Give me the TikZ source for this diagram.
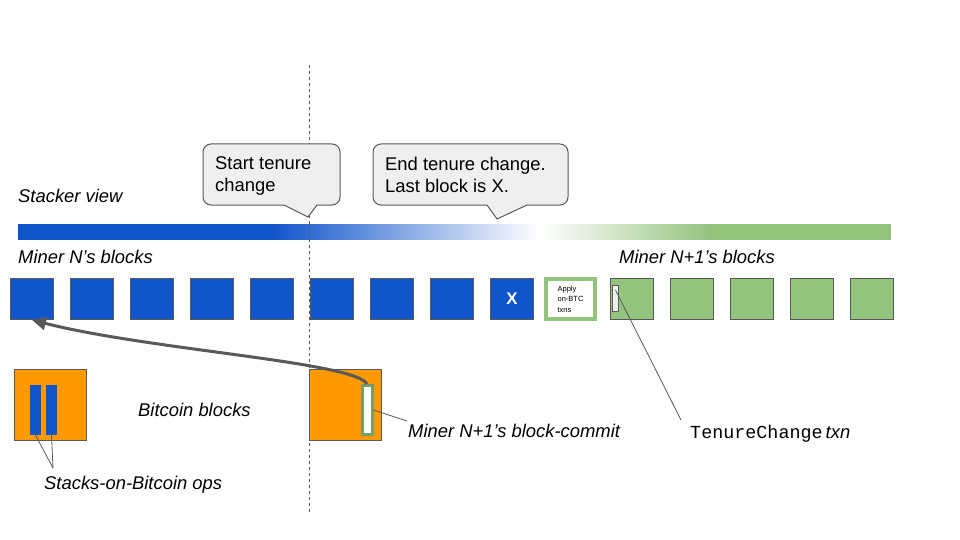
\documentclass[tikz,border=0pt]{standalone}
\usepackage{fontspec}
\setmainfont{Liberation Sans}
\setmonofont{Liberation Mono}
\usetikzlibrary{arrows.meta}

\definecolor{stxblue}{HTML}{1155CC}
\definecolor{stxgreen}{HTML}{93C47D}
\definecolor{btcorange}{HTML}{FF9900}
\definecolor{edgegray}{HTML}{595959}
\definecolor{bubblegray}{HTML}{EFEFEF}

\tikzset{
  blk/.style={draw=edgegray, line width=1pt, minimum width=43pt, minimum height=41pt, inner sep=0pt},
  lbl/.style={font=\fontsize{18.4}{22}\selectfont\itshape, inner sep=0pt, anchor=base west},
  bubble/.style={draw=edgegray, fill=bubblegray, line width=1pt},
  bubbletext/.style={font=\fontsize{18.4}{22}\selectfont, inner sep=0pt, anchor=north west, align=left},
  lead/.style={draw=edgegray, line width=0.8pt},
}

\begin{document}
\begin{tikzpicture}[x=1pt, y=-1pt]
			\fill[white] (0,0) rectangle (960,540);
			\useasboundingbox (0,0) rectangle (960,540);

			% Stacker view bar
			\fill[stxblue] (18,224) rectangle (274,240);
			\foreach \x in {274,...,540}{
				\pgfmathtruncatemacro{\p}{100-(\x-274)/2.66}
				\fill[stxblue!\p!white] (\x,224) rectangle (\x+1.5,240);
			}
			\foreach \x in {541,...,710}{
				\pgfmathtruncatemacro{\p}{(\x-541)/1.69}
				\fill[stxgreen!\p!white] (\x,224) rectangle (\x+1.5,240);
			}
			\fill[stxgreen] (711,224) rectangle (891,240);

			% Tenure change boundary
			\draw[edgegray, line width=0.8pt, dash pattern=on 3pt off 3pt] (309,65) -- (309,515);

			% Callouts
			\draw[bubble] (203,174) [rounded corners=8pt] -- (203,144) -- (340,144) -- (340,205)
				[sharp corners] -- (317,205) -- (308,217) -- (284,205) [rounded corners=8pt] -- (203,205) -- cycle;
			\node[bubbletext] (start) at (215,156.5) {Start tenure\\change};
			\draw[bubble] (373,174) [rounded corners=8pt] -- (373,144) -- (568,144) -- (568,205)
				[sharp corners] -- (527,205) -- (497,219) -- (487,205) [rounded corners=8pt] -- (373,205) -- cycle;
			\node[bubbletext] (endtc) at (385,156.5) {End tenure change.\\Last block is X.};

			% Labels
			\node[lbl] (stacker) at (18,202) {Stacker view};
			\node[lbl] (minern) at (18,263) {Miner N’s blocks};
			\node[lbl] (minernn) at (619,263) {Miner N+1’s blocks};
			\node[lbl] (btclabel) at (138,416) {Bitcoin blocks};
			\node[lbl] (opslabel) at (44,489) {Stacks-on-Bitcoin ops};
			\node[lbl] (commitlabel) at (408,437) {Miner N+1’s block-commit};
			\node[lbl] (tclabel) at (690,438) {{\upshape\ttfamily TenureChange}\hspace{3pt}txn};

			% Miner N's blocks
			\foreach \i in {0,...,7}
				\node[blk, fill=stxblue] (b\i) at (32+60*\i,299) {};
			\node[blk, fill=stxblue, text=white, font=\fontsize{16.8}{18}\selectfont\bfseries] (b8) at (512,299) {X};
			\node[draw=stxgreen, fill=white, line width=4pt, minimum width=49pt, minimum height=40pt, inner sep=0pt,
				align=left, font=\fontsize{7.5}{10.5}\selectfont] (b9) at (570.5,299) {Apply\\on-BTC\\txns};

			% Miner N+1's blocks
			\foreach \i in {10,...,14}
				\node[blk, fill=stxgreen] (b\i) at (32+60*\i,299) {};
			\node[draw=edgegray, fill=bubblegray, line width=0.8pt, minimum width=6pt, minimum height=26pt, inner sep=0pt] (txn) at (615.5,298.5) {};

			% Bitcoin blocks
			\node[draw=edgegray, fill=btcorange, line width=1pt, minimum width=72pt, minimum height=71pt] (btc1) at (50,405) {};
			\node[draw=edgegray, fill=btcorange, line width=1pt, minimum width=72pt, minimum height=71pt] (btc2) at (345.5,405) {};
			\node[fill=stxblue, minimum width=11pt, minimum height=50pt, inner sep=0pt] (op1) at (35.5,410) {};
			\node[fill=stxblue, minimum width=11pt, minimum height=50pt, inner sep=0pt] (op2) at (51.5,410) {};
			\node[draw=stxgreen!80!black, fill=white, line width=3pt, minimum width=10pt, minimum height=49pt, inner sep=0pt] (commit) at (367,410) {};

			% Leaders
			\coordinate (opsjoin) at (53,468);
			\draw[lead] (op1.south) -- (opsjoin);
			\draw[lead] (op2.south) -- (opsjoin);
			\coordinate (commitend) at (407,421);
			\draw[lead] (commit.east) -- (commitend);
			\coordinate (tcend) at (681,420);
			\draw[lead] ([yshift=-5pt]txn.north) -- (tcend);

			% Block-commit points back to the parent block
			\draw[edgegray, line width=3pt, -{Triangle[length=14pt, width=13pt]}]
				(commit.north) .. controls (355,362) and (150,350) .. (b0.south);
		\end{tikzpicture}
\end{document}
